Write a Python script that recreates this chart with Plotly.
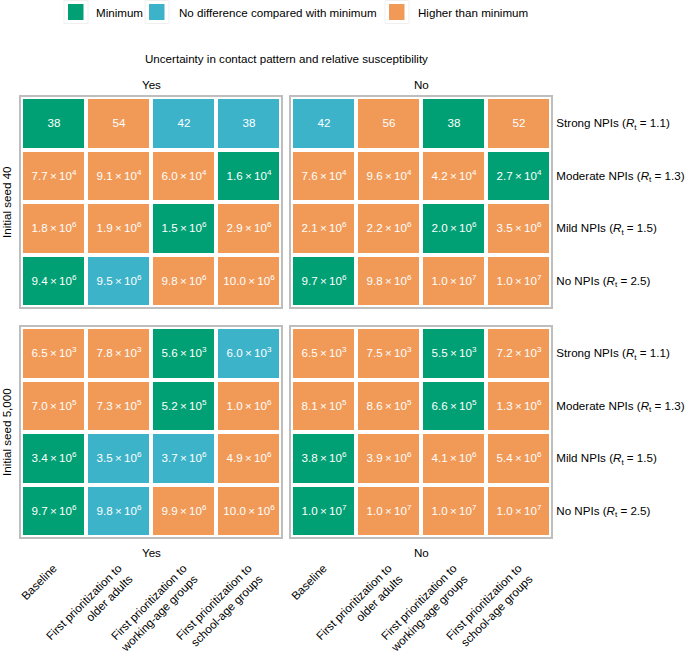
import plotly.graph_objects as go
from plotly.subplots import make_subplots

# ---------------- data ----------------
strategies = [
    "Baseline",
    "First prioritization to<br>older adults",
    "First prioritization to<br>working-age groups",
    "First prioritization to<br>school-age groups",
]
npi_levels = [
    "Strong NPIs (<i>R</i><sub>t</sub> = 1.1)",
    "Moderate NPIs (<i>R</i><sub>t</sub> = 1.3)",
    "Mild NPIs (<i>R</i><sub>t</sub> = 1.5)",
    "No NPIs (<i>R</i><sub>t</sub> = 2.5)",
]
uncertainty_groups = ["Yes", "No"]
seed_groups = ["Initial seed 40", "Initial seed 5,000"]
status_names = ["Minimum", "No difference compared with minimum", "Higher than minimum"]
status_colors = ["#009F74", "#3DB3CA", "#F19A58"]

# values as printed in the cells (mantissa e exponent)
seed40_yes_values = [["38", "54", "42", "38"],
                     ["7.7e4", "9.1e4", "6.0e4", "1.6e4"],
                     ["1.8e6", "1.9e6", "1.5e6", "2.9e6"],
                     ["9.4e6", "9.5e6", "9.8e6", "10.0e6"]]
seed40_yes_status = [[0, 2, 1, 1],
                     [2, 2, 2, 0],
                     [2, 2, 0, 2],
                     [0, 1, 2, 2]]

seed40_no_values = [["42", "56", "38", "52"],
                    ["7.6e4", "9.6e4", "4.2e4", "2.7e4"],
                    ["2.1e6", "2.2e6", "2.0e6", "3.5e6"],
                    ["9.7e6", "9.8e6", "1.0e7", "1.0e7"]]
seed40_no_status = [[1, 2, 0, 2],
                    [2, 2, 2, 0],
                    [2, 2, 0, 2],
                    [0, 2, 2, 2]]

seed5000_yes_values = [["6.5e3", "7.8e3", "5.6e3", "6.0e3"],
                       ["7.0e5", "7.3e5", "5.2e5", "1.0e6"],
                       ["3.4e6", "3.5e6", "3.7e6", "4.9e6"],
                       ["9.7e6", "9.8e6", "9.9e6", "10.0e6"]]
seed5000_yes_status = [[2, 2, 0, 1],
                       [2, 2, 0, 2],
                       [0, 1, 1, 2],
                       [0, 1, 2, 2]]

seed5000_no_values = [["6.5e3", "7.5e3", "5.5e3", "7.2e3"],
                      ["8.1e5", "8.6e5", "6.6e5", "1.3e6"],
                      ["3.8e6", "3.9e6", "4.1e6", "5.4e6"],
                      ["1.0e7", "1.0e7", "1.0e7", "1.0e7"]]
seed5000_no_status = [[2, 2, 0, 2],
                      [2, 2, 0, 2],
                      [0, 2, 2, 2],
                      [0, 2, 2, 2]]

# ---------------- layout constants ----------------
W, H = 685, 653
ML, MR, MT, MB = 21, 134, 97, 116
PW = W - ML - MR
PH = H - MT - MB
FONT = "Liberation Sans, Arial, Helvetica, sans-serif"
FS = 11.6


def px2x(px):
    return (px - ML) / PW


def px2y(py):
    return (H - MB - py) / PH


def fmt(s):
    if "e" in s:
        m, e = s.split("e")
        return f"{m}\u2009×\u200910<sup>{e}</sup>"
    return s


colorscale = [[0, status_colors[0]], [1 / 3, status_colors[0]],
              [1 / 3, status_colors[1]], [2 / 3, status_colors[1]],
              [2 / 3, status_colors[2]], [1, status_colors[2]]]

fig = make_subplots(rows=2, cols=2, horizontal_spacing=10 / PW, vertical_spacing=20 / PH)

panels = [
    (1, 1, seed40_yes_values, seed40_yes_status),
    (1, 2, seed40_no_values, seed40_no_status),
    (2, 1, seed5000_yes_values, seed5000_yes_status),
    (2, 2, seed5000_no_values, seed5000_no_status),
]

for r, c, vals, stat in panels:
    fig.add_trace(go.Heatmap(
        x=strategies, y=npi_levels, z=stat,
        text=[[fmt(v) for v in row] for row in vals],
        texttemplate="%{text}",
        textfont=dict(color="white", size=FS, family=FONT),
        colorscale=colorscale, zmin=0, zmax=2, showscale=False,
        xgap=4, ygap=4, hoverinfo="skip",
    ), row=r, col=c)
    fig.update_xaxes(row=r, col=c, showline=True, mirror=True, linecolor="#BEBEBE",
                     linewidth=2, showgrid=False, zeroline=False, ticks="",
                     showticklabels=(r == 2), tickangle=-45, ticklabelstandoff=18,
                     automargin=False,
                     tickfont=dict(size=FS, color="black", family=FONT))
    fig.update_yaxes(row=r, col=c, showline=True, mirror=True, linecolor="#BEBEBE",
                     linewidth=2, showgrid=False, zeroline=False, ticks="",
                     autorange="reversed", showticklabels=(c == 2), side="right",
                     ticklabelstandoff=1, automargin=False,
                     tickfont=dict(size=FS, color="black", family=FONT))

annotations = []


def add_text(text, px, py, xanchor="center", angle=0):
    annotations.append(dict(text=text, x=px2x(px), y=px2y(py), xref="paper", yref="paper",
                            xanchor=xanchor, yanchor="middle", textangle=angle,
                            showarrow=False, font=dict(size=FS, color="black")))


add_text("Uncertainty in contact pattern and relative susceptibility", 286, 59)
for name, xc in zip(uncertainty_groups, [151, 421]):
    add_text(name, xc, 85)
    add_text(name, xc, 552)
for name, yc in zip(seed_groups, [202, 432]):
    add_text(name, 6, yc, angle=-90)

# legend (manual, ggplot-like keys)
shapes = []
key_left = [68, 149, 389]
text_left = [94, 177, 416]
for name, col, kx, tx in zip(status_names, status_colors, key_left, text_left):
    shapes.append(dict(type="rect", xref="paper", yref="paper",
                       x0=px2x(kx - 4), x1=px2x(kx + 20), y0=px2y(0.5), y1=px2y(23.5),
                       line=dict(color="#F0F0F0", width=1), fillcolor="white", layer="below"))
    shapes.append(dict(type="rect", xref="paper", yref="paper",
                       x0=px2x(kx), x1=px2x(kx + 15.5), y0=px2y(4), y1=px2y(20),
                       line=dict(width=0), fillcolor=col))
    add_text(name, tx, 12.5, xanchor="left")

fig.update_layout(
    width=W, height=H,
    margin=dict(l=ML, r=MR, t=MT, b=MB, autoexpand=False),
    paper_bgcolor="white", plot_bgcolor="white",
    font=dict(family=FONT, size=FS, color="black"),
    annotations=annotations, shapes=shapes,
    showlegend=False,
)

fig.write_html("out.html", config={"displayModeBar": False},
               post_script="document.body.style.margin='0px';")
